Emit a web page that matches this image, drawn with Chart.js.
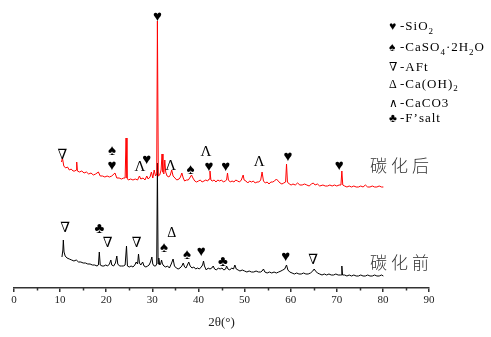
<!DOCTYPE html>
<html>
<head>
<meta charset="utf-8">
<script src="https://cdn.jsdelivr.net/npm/chart.js@4.4.1/dist/chart.umd.min.js"></script>
<style>
html,body{margin:0;padding:0;background:#fff;}
#wrap{width:491px;height:337px;position:relative;}
</style>
</head>
<body>
<div id="wrap"><canvas id="c" width="491" height="337"></canvas></div>
<script>
// ---- data (2θ in degrees, intensity in arbitrary units, stacked offsets included) ----
const redTheta = [10.3,10.5,10.8,11.2,11.6,12.0,12.4,12.8,13.2,13.5,13.6,13.75,14.2,14.7,15.2,15.7,16.2,16.7,17.2,17.7,18.3,18.7,19.2,19.7,20.2,20.7,21.2,21.9,22.3,22.8,23.3,23.8,24.1,24.3,24.5,24.8,25.3,25.8,26.3,26.8,27.2,27.5,28.0,28.4,28.8,29.1,29.5,29.8,30.1,30.4,30.7,30.95,31.1,31.3,31.6,31.9,32.1,32.3,32.5,32.7,32.9,33.2,33.6,33.9,34.2,34.5,34.9,35.3,35.8,36.1,36.4,36.7,37.0,37.4,37.8,38.1,38.5,38.8,39.2,39.6,40.0,40.4,40.8,41.2,41.6,42.0,42.3,42.5,42.7,43.0,43.4,43.8,44.2,44.6,45.0,45.4,45.8,46.1,46.3,46.5,46.9,47.3,47.7,48.1,48.5,48.9,49.3,49.7,49.9,50.3,50.7,51.1,51.5,51.9,52.3,52.7,53.1,53.5,53.8,54.1,54.5,54.9,55.3,55.7,56.1,56.5,56.9,57.3,57.7,58.1,58.5,58.9,59.1,59.3,59.7,60.1,60.5,61.0,61.5,62.0,62.5,63.0,63.5,64.0,64.5,64.9,65.3,65.8,66.3,67.0,67.5,68.0,68.5,69.0,69.5,70.0,70.5,70.9,71.1,71.3,71.7,72.2,72.7,73.2,73.7,74.2,74.7,75.2,75.7,76.2,76.7,77.2,77.7,78.2,78.7,79.2,79.7,80.1];
const redIntensity = [127,131,123,121,122,119,120,118,118,119,127,118,117,118,116,117,115,116,114,115,117,113,113,112,113,112,113,116,111,111,110,111,111,151,111,109,110,109,110,109,113,110,111,109,113,110,112,117,111,119,113,115,268,113,114,119,135,117,115,129,117,113,112,114,119,113,111,109,110,112,116,111,108,109,109,111,114,111,108,107,108,109,107,108,109,108,110,118,109,108,109,107,109,108,109,107,108,109,116,109,107,108,107,109,108,107,109,114,109,108,106,108,107,108,106,107,107,109,117,108,106,107,105,107,107,108,110,108,106,105,106,107,125,107,105,104,105,104,106,104,104,105,104,103,105,106,104,105,103,104,103,103,104,103,104,103,104,104,118,104,103,102,103,102,103,102,102,103,102,104,102,102,103,102,102,103,102,102];

const blackTheta = [10.4,10.6,10.7,10.85,11.1,11.5,12.0,12.5,13.0,13.5,14.0,14.5,15.0,15.5,16.0,16.5,17.0,17.5,18.0,18.3,18.5,18.7,19.1,19.5,19.9,20.3,20.7,21.0,21.2,21.6,22.0,22.3,22.5,22.9,23.3,23.7,24.1,24.4,24.6,25.0,25.4,25.8,26.2,26.5,26.8,27.0,27.2,27.5,27.9,28.2,28.6,29.0,29.3,29.6,29.9,30.1,30.4,30.7,30.95,31.1,31.25,31.4,31.6,31.8,32.0,32.2,32.5,32.9,33.3,33.7,34.1,34.5,34.8,35.2,35.6,36.0,36.4,36.7,37.0,37.3,37.6,37.9,38.2,38.6,39.0,39.4,39.8,40.2,40.6,40.9,41.1,41.3,41.7,42.1,42.5,42.9,43.2,43.5,43.9,44.3,44.7,45.1,45.5,45.9,46.1,46.4,46.8,47.2,47.6,47.9,48.2,48.6,49.0,49.5,50.0,50.5,51.0,51.5,52.0,52.5,53.0,53.5,53.8,54.1,54.4,54.9,55.4,55.9,56.4,56.9,57.4,57.9,58.3,58.7,59.1,59.4,59.8,60.3,60.8,61.3,61.8,62.3,62.8,63.3,63.8,64.3,64.8,65.1,65.4,65.8,66.3,66.8,67.3,67.8,68.3,68.8,69.3,69.8,70.3,70.8,71.0,71.1,71.25,71.7,72.2,72.7,73.2,73.7,74.2,74.7,75.2,75.7,76.2,76.7,77.2,77.7,78.2,78.7,79.2,79.7,80.1];
const blackIntensity = [32,39,49,37,33,31,30,29,28,29,27,27,26,26,25,25,24,24,23,24,37,24,23,23,24,23,25,29,24,23,26,33,25,23,23,23,24,43,23,22,23,22,24,27,25,35,26,24,27,23,22,23,24,27,32,25,23,23,25,126,25,31,24,25,29,25,23,22,23,21,25,30,23,21,20,21,23,26,22,21,24,27,23,21,22,20,21,20,22,24,28,23,19,21,20,21,23,20,19,21,20,21,19,20,23,20,19,21,20,24,20,19,18,19,18,17,18,17,17,18,17,17,18,20,17,16,17,16,17,16,17,18,19,20,24,19,17,16,15,16,15,15,16,15,15,16,18,20,18,16,15,14,15,14,15,14,14,15,14,14,14,23,14,14,13,14,13,14,13,13,14,13,13,14,13,13,14,13,13,14,13];

// phase markers: symbol, 2θ position, label level
const redMarkSymbols = ['∇','♠','♥','Λ','♥','♥','Λ','♠','Λ','♥','♥','Λ','♥','♥'];
const redMarkTheta   = [10.5,21.25,21.25,27.3,28.8,31.1,34.0,38.3,41.6,42.3,45.9,53.2,59.4,70.5];
const redMarkLevel   = [134,138,123,122,129,272,123,119,137,122,122,127,132,123];

const blackMarkSymbols = ['∇','♣','∇','∇','♠','Δ','♠','♥','♣','♥','∇'];
const blackMarkTheta   = [11.1,18.5,20.3,26.6,32.5,34.2,37.5,40.6,45.3,58.9,64.9];
const blackMarkLevel   = [61,60,46,45.5,41,56,33.5,36.5,27.3,32,28.5];

const xTickValues = [0,10,20,30,40,50,60,70,80,90];
const legendSymbols = ['♥','♠','∇','Δ','∧','♣'];
const legendTexts = ['-SiO_2','-CaSO_4·2H_2O','-AFt','-Ca(OH)_2','-CaCO3','-F’salt'];
const seriesNames = ['碳化后','碳化前'];

const toPoints = (xs, ys) => xs.map((x, i) => ({x: x, y: ys[i]}));

const serif = '"Liberation Serif","DejaVu Serif",serif';

const decorPlugin = {
  id: 'decor',
  afterDraw(chart) {
    const ctx = chart.ctx;
    const xs = chart.scales.x, ys = chart.scales.y;
    ctx.save();
    // minor ticks
    ctx.strokeStyle = '#333';
    ctx.lineWidth = 1.5;
    const yb = chart.chartArea.bottom;
    for (let v = 5; v < 90; v += 10) {
      const px = Math.round(xs.getPixelForValue(v)) + 0.5;
      ctx.beginPath(); ctx.moveTo(px, yb); ctx.lineTo(px, yb + 2.5); ctx.stroke();
    }
    // markers
    ctx.fillStyle = '#000';
    ctx.textAlign = 'center';
    ctx.textBaseline = 'middle';
    const sizeOf = (s) => (s === 'Λ' ? '15px ' : (s === '∇' || s === 'Δ') ? '14px ' : '15px ');
    const drawMarks = (syms, th, lv) => {
      syms.forEach((s, i) => {
        ctx.font = sizeOf(s) + serif;
        ctx.fillText(s, xs.getPixelForValue(th[i]), ys.getPixelForValue(lv[i]));
      });
    };
    drawMarks(redMarkSymbols, redMarkTheta, redMarkLevel);
    drawMarks(blackMarkSymbols, blackMarkTheta, blackMarkLevel);

    // legend
    ctx.textAlign = 'left';
    ctx.textBaseline = 'alphabetic';
    const lx = 389, baseY = [30, 51, 71, 87.5, 107, 122], tx = 400;
    legendSymbols.forEach((s, i) => {
      ctx.letterSpacing = '0px';
      ctx.font = '12px ' + serif;
      ctx.fillText(s, lx, baseY[i]);
      let x = tx;
      const txt = legendTexts[i];
      ctx.letterSpacing = '1px';
      for (let k = 0; k < txt.length; k++) {
        let ch = txt[k], sub = false;
        if (ch === '_') { ch = txt[++k]; sub = true; }
        ctx.font = (sub ? '9px ' : '13px ') + serif;
        ctx.fillText(ch, x, baseY[i] + (sub ? 3.5 : 0));
        x += ctx.measureText(ch).width;
      }
    });
    ctx.letterSpacing = '0px';

    // series names
    ctx.font = '300 17px "Noto Sans CJK SC"';
    ctx.letterSpacing = '4px';
    ctx.fillStyle = '#333';
    ctx.textBaseline = 'middle';
    ctx.fillText(seriesNames[0], 370, 166);
    ctx.fillText(seriesNames[1], 370, 263);
    ctx.restore();
  }
};

new Chart(document.getElementById('c'), {
  type: 'line',
  data: {
    datasets: [
      { label: seriesNames[0], data: toPoints(redTheta, redIntensity), borderColor: '#ff0000', borderWidth: 1, pointRadius: 0, tension: 0, fill: false },
      { label: seriesNames[1], data: toPoints(blackTheta, blackIntensity), borderColor: '#000000', borderWidth: 1, pointRadius: 0, tension: 0, fill: false }
    ]
  },
  options: {
    responsive: false,
    animation: false,
    devicePixelRatio: 1,
    layout: { padding: { left: 14, right: 62, top: 8, bottom: 0 } },
    plugins: { legend: { display: false }, tooltip: { enabled: false } },
    scales: {
      x: {
        type: 'linear', min: 0, max: 90,
        afterBuildTicks: (s) => { s.ticks = xTickValues.map(v => ({ value: v })); },
        afterFit: (s) => { s.height = 49; },
        ticks: { font: { family: serif, size: 11 }, color: '#222', padding: 2, maxRotation: 0, autoSkip: false },
        grid: { drawOnChartArea: false, drawTicks: true, tickLength: 4, color: '#333', lineWidth: 1.5 },
        border: { display: true, color: '#333', width: 1.5 },
        title: { display: true, text: '2θ(°)', font: { family: serif, size: 13 }, color: '#222', padding: { top: 4, bottom: 7 } }
      },
      y: { display: false, min: 1, max: 281 }
    }
  },
  plugins: [decorPlugin]
});
</script>
</body>
</html>
